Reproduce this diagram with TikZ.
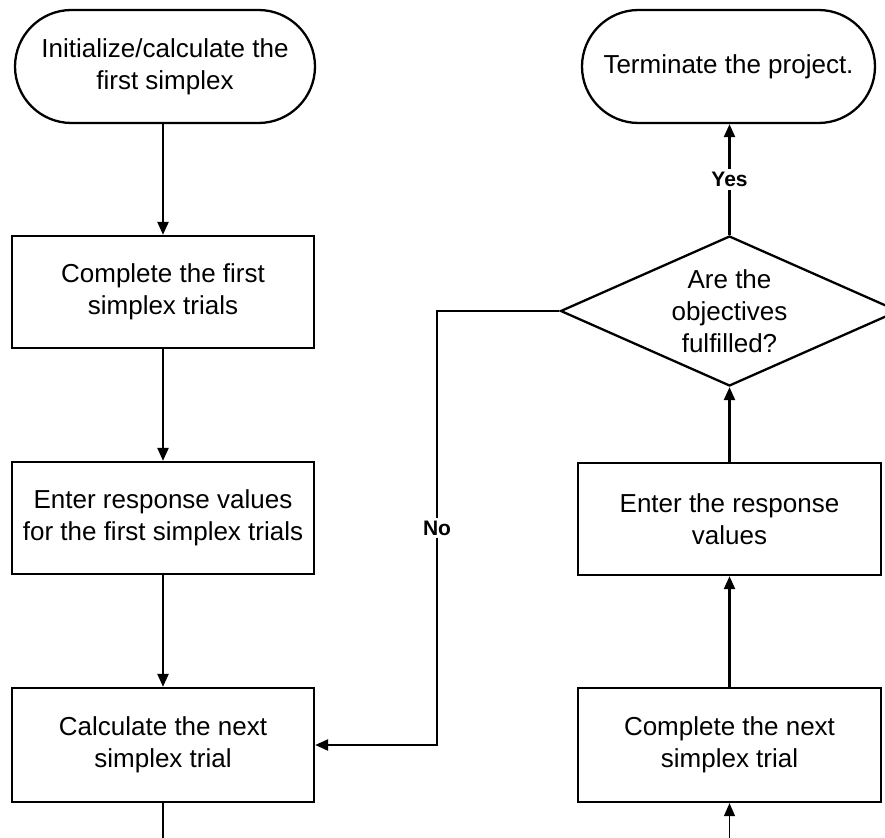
\documentclass[tikz,border=0pt]{standalone}
\usepackage{fontspec}
\setmainfont{Liberation Sans}
\usetikzlibrary{shapes.geometric,shapes.misc,arrows.meta}
\tikzset{
  base/.style={draw=black, line width=2.3pt, fill=white, align=center, inner sep=0pt,
    font=\fontsize{26}{32}\selectfont},
  procbox/.style={base, rectangle, minimum width=302pt, minimum height=112pt},
  termbox/.style={base, rounded rectangle, minimum height=113pt},
  decbox/.style={base, diamond, aspect=2.25, minimum width=338pt, minimum height=150pt},
  arr/.style={line width=2.3pt, -{Triangle[length=13pt,width=11pt]}},
  thinline/.style={line width=1.2pt},
  thinarr/.style={line width=1.2pt, -{Triangle[length=13pt,width=11pt]}},
  lbl/.style={fill=white, inner sep=3pt, font=\fontsize{21}{24}\selectfont\bfseries}
}
\begin{document}
\begin{tikzpicture}[x=1pt, y=-1pt]
\clip (0,0) rectangle (885,837);
\fill[white] (0,0) rectangle (885,837);
% left column
\node[termbox, minimum width=300pt] (init) at (165,66.5) {Initialize/calculate the\\first simplex};
\node[procbox] (b1) at (163,292) {Complete the first\\simplex trials};
\node[procbox] (b2) at (163,518) {Enter response values\\for the first simplex trials};
\node[procbox, minimum height=114pt] (b3) at (163,745) {Calculate the next\\simplex trial};
% right column
\node[termbox, minimum width=293pt] (term) at (728.5,66.5) {Terminate the project.};
\node[decbox] (dec) at (729.5,311) {Are the\\objectives\\fulfilled?};
\node[procbox, minimum width=303pt] (enter) at (729.5,519) {Enter the response\\values};
\node[procbox, minimum width=303pt, minimum height=114pt] (comp) at (729.5,745) {Complete the next\\simplex trial};
% connector coordinates
\coordinate (nx) at (437,311);
\coordinate (lb) at (163,840);
\coordinate (rb) at (729.5,840);
% connectors
\draw[arr] (init.south -| b1.north) -- (b1.north);
\draw[arr] (b1.south) -- (b2.north);
\draw[arr] (b2.south) -- (b3.north);
\draw[arr] (dec.west) -- (nx) |- node[pos=0.25, lbl] (no) {No} (b3.east);
\draw[arr] (comp.north) -- (enter.south);
\draw[arr] (enter.north) -- (dec.south);
\draw[arr] (dec.north) -- node[midway, lbl] (yes) {Yes} (dec.north |- term.south);
\draw[thinline] (b3.south) -- (lb);
\draw[thinarr] (rb) -- (comp.south);
\end{tikzpicture}
\end{document}
